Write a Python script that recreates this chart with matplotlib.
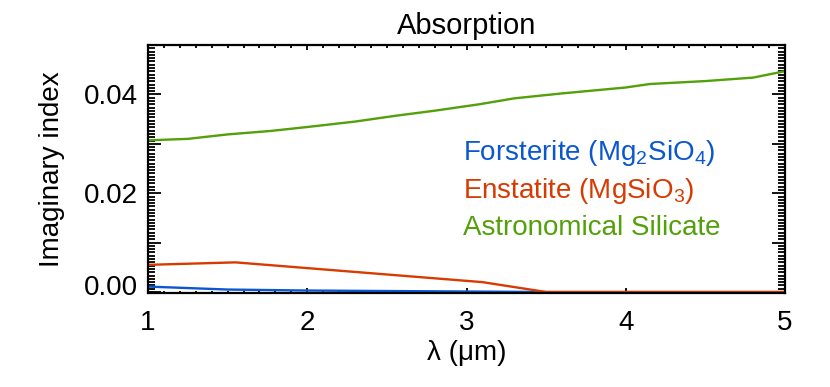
import numpy as np
import matplotlib
matplotlib.use("Agg")
import matplotlib.pyplot as plt
import matplotlib.transforms as mtransforms
from matplotlib.ticker import MultipleLocator, FixedLocator, FuncFormatter

plt.rcParams["font.family"] = ["Liberation Sans", "DejaVu Sans"]
plt.rcParams["mathtext.fontset"] = "custom"
plt.rcParams["mathtext.rm"] = "Liberation Sans"

# wavelength (um) vs imaginary index
wl_astro = [1.0, 1.25, 1.5, 1.77, 2.0, 2.3, 2.56, 2.8, 3.08, 3.3, 3.6, 4.0, 4.15, 4.5, 4.8, 5.0]
k_astro = [0.0307, 0.0310, 0.0319, 0.0326, 0.0334, 0.0345, 0.0357, 0.0367, 0.0380,
           0.0392, 0.0402, 0.0414, 0.0421, 0.0427, 0.0434, 0.0447]
wl_enst = [1.0, 1.55, 3.1, 3.5, 5.0]
k_enst = [0.0055, 0.0060, 0.0020, 0.0, 0.0]
wl_fors = [1.0, 1.5, 2.0, 2.5, 3.0, 3.5, 5.0]
k_fors = [0.0011, 0.0005, 0.0003, 0.0002, 0.0001, 0.0, 0.0]

labels = ["Forsterite (Mg$_2$SiO$_4$)", "Enstatite (MgSiO$_3$)", "Astronomical Silicate"]
colors = ["#0b57d0", "#d83b01", "#52a00a"]
label_y = [0.0282, 0.0205, 0.0130]

fig = plt.figure(figsize=(8.3, 3.87), dpi=100)
ax = fig.add_axes([148 / 830, 1 - 293 / 387, 637 / 830, 248 / 387])

ax.plot(wl_astro, k_astro, color=colors[2], lw=1.7)
ax.plot(wl_fors, k_fors, color=colors[0], lw=1.7)
ax.plot(wl_enst, k_enst, color=colors[1], lw=1.7)

for lab, c, yy in zip(labels, colors, label_y):
    ax.text(2.98, yy, lab, color=c, fontsize=20, ha="left", va="center")

ax.set_xlim(1, 5)
ax.set_ylim(-0.0002, 0.05)

ax.xaxis.set_major_locator(MultipleLocator(1))
ax.xaxis.set_minor_locator(MultipleLocator(0.1))
ax.yaxis.set_major_locator(FixedLocator([0.0, 0.01, 0.02, 0.03, 0.04]))
ax.yaxis.set_minor_locator(FixedLocator(np.arange(0, 0.0501, 0.01 / 15)))
ax.yaxis.set_major_formatter(FuncFormatter(
    lambda v, p: f"{v:.2f}" if round(v * 100) % 2 == 0 else ""))

ax.tick_params(axis="both", which="both", direction="in", top=True, right=True,
               labelsize=20, width=1.3, color="black")
ax.tick_params(axis="x", which="major", length=3.6, pad=12)
ax.tick_params(axis="x", which="minor", length=1.8)
ax.tick_params(axis="y", which="major", length=9.4, pad=7)
ax.tick_params(axis="y", which="minor", length=4.7)
for s in ax.spines.values():
    s.set_linewidth(1.6)

# the bottom y label sits a little above its tick in the reference
fig.canvas.draw()
lbl0 = ax.yaxis.get_majorticklabels()[0]
lbl0.set_transform(lbl0.get_transform() + mtransforms.ScaledTranslation(0, 7 / 100, fig.dpi_scale_trans))

ax.set_xlabel("λ (μm)", fontsize=20, labelpad=3)
ax.set_ylabel("Imaginary index", fontsize=20, labelpad=14)
ax.set_title("Absorption", fontsize=21, pad=8)

fig.savefig("out.png", dpi=100)
